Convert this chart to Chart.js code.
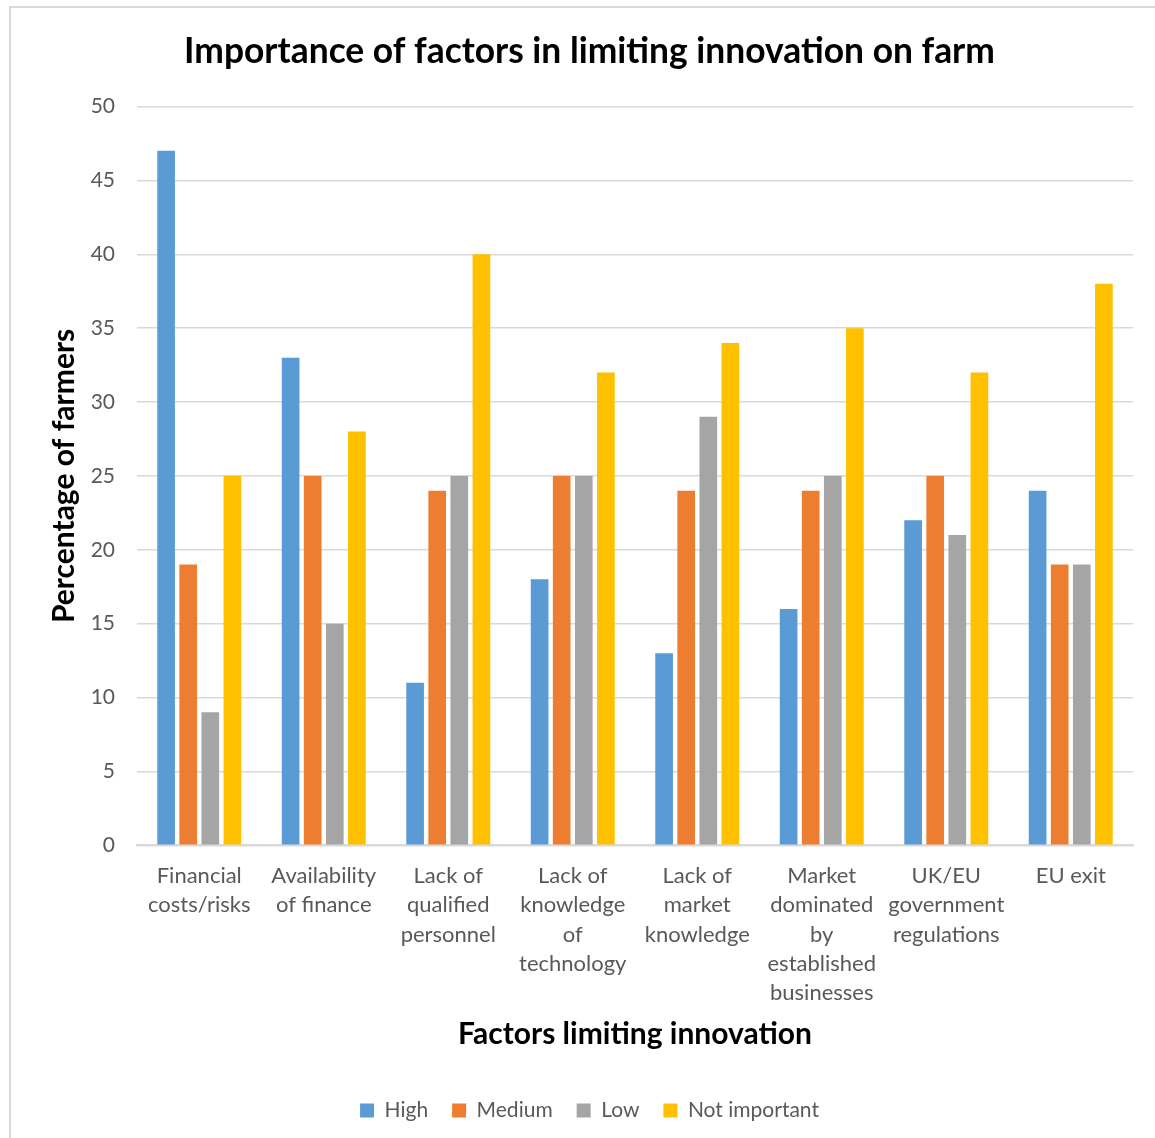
<!DOCTYPE html>
<html>
<head>
<meta charset="utf-8">
<script src="https://cdn.jsdelivr.net/npm/chart.js@4/dist/chart.umd.min.js"></script>
<style>
  html, body { margin: 0; padding: 0; background: #fff; overflow: hidden; }
  #frame { position: absolute; left: 9px; top: 6px; width: 1160px; height: 1150px;
           border-top: 2px solid #d9d9d9; border-left: 2px solid #d9d9d9; box-sizing: border-box; }
  #wrap { position: absolute; left: 0; top: 0; width: 1155px; height: 1138px; }
</style>
</head>
<body>
<div id="frame"></div>
<div id="wrap"><canvas id="c" width="1155" height="1138"></canvas></div>
<script>
const categories = [
  ["Financial", "costs/risks"],
  ["Availability", "of finance"],
  ["Lack of", "qualified", "personnel"],
  ["Lack of", "knowledge", "of", "technology"],
  ["Lack of", "market", "knowledge"],
  ["Market", "dominated", "by", "established", "businesses"],
  ["UK/EU", "government", "regulations"],
  ["EU exit"]
];
const high = [47, 33, 11, 18, 13, 16, 22, 24];
const medium = [19, 25, 24, 25, 24, 24, 25, 19];
const low = [9, 15, 25, 25, 29, 25, 21, 19];
const notImportant = [25, 28, 40, 32, 34, 35, 32, 38];
const yTicks = [0, 5, 10, 15, 20, 25, 30, 35, 40, 45, 50];

const FONT = "Lato, 'Open Sans', sans-serif";
const grey = "#595959";

new Chart(document.getElementById("c"), {
  type: "bar",
  data: {
    labels: categories,
    datasets: [
      { label: "High", data: high, backgroundColor: "#5b9bd5" },
      { label: "Medium", data: medium, backgroundColor: "#ed7d31" },
      { label: "Low", data: low, backgroundColor: "#a5a5a5" },
      { label: "Not important", data: notImportant, backgroundColor: "#ffc000" }
    ]
  },
  options: {
    responsive: false,
    animation: false,
    devicePixelRatio: 1,
    datasets: { bar: { categoryPercentage: 0.71, barPercentage: 0.8 } },
    layout: { padding: { left: 46, right: 22, top: 23, bottom: 7 } },
    plugins: {
      title: {
        display: true,
        text: "Importance of factors in limiting innovation on farm",
        color: "#000",
        font: { family: FONT, size: 35.4, weight: "bold" },
        padding: { top: 7, bottom: 34 }
      },
      legend: {
        position: "bottom",
        labels: {
          color: grey,
          font: { family: FONT, size: 21 },
          boxWidth: 14,
          boxHeight: 14,
          padding: 24
        }
      },
      tooltip: { enabled: false }
    },
    scales: {
      x: {
        grid: { display: false, drawTicks: false },
        border: { color: "#d9d9d9", width: 2 },
        ticks: {
          color: grey,
          font: { family: FONT, size: 22, lineHeight: 1.333 },
          padding: 16,
          maxRotation: 0,
          autoSkip: false
        },
        title: {
          display: true,
          text: "Factors limiting innovation",
          color: "#000",
          font: { family: FONT, size: 30, weight: "bold" },
          padding: { top: -8, bottom: 24 }
        }
      },
      y: {
        min: 0,
        max: 50,
        afterBuildTicks: (axis) => { axis.ticks = yTicks.map(v => ({ value: v })); },
        afterFit: (axis) => { axis.width = 91; },
        grid: { color: "#d9d9d9", lineWidth: 1.5, drawTicks: false },
        border: { display: false },
        ticks: {
          color: grey,
          font: { family: FONT, size: 21 },
          padding: 22
        },
        title: {
          display: true,
          text: "Percentage of farmers",
          color: "#000",
          font: { family: FONT, size: 30, weight: "bold" },
          padding: { top: 0, bottom: 0 }
        }
      }
    }
  }
});
</script>
</body>
</html>
